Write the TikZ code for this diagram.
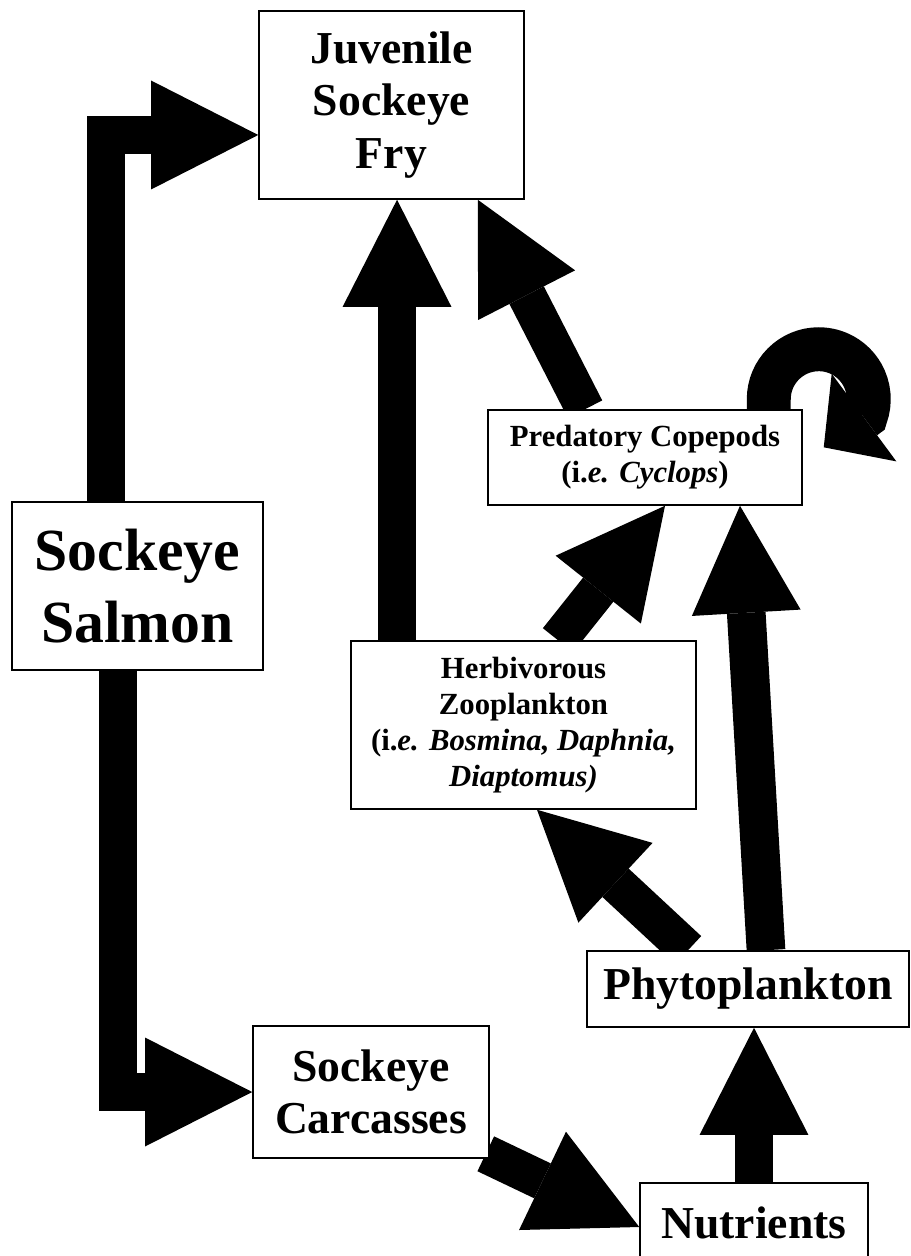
\documentclass[tikz,border=0pt]{standalone}
\usepackage{fontspec}
\setmainfont{Liberation Serif}
\usetikzlibrary{arrows.meta}
\pgfdeclarelayer{back}
\pgfsetlayers{back,main}

\begin{document}
\begin{tikzpicture}[
    x=0.02cm, y=-0.02cm,
    box/.style={rectangle, draw, line width=0.9pt, fill=white, align=center, inner sep=2pt},
    bigbox/.style={box, font=\fontsize{26}{30}\selectfont\bfseries},
    hugebox/.style={box, font=\fontsize{34}{41}\selectfont\bfseries},
    smallbox/.style={box, font=\fontsize{17.5}{20.6}\selectfont\bfseries},
    flow/.style={line width=22pt, -{Triangle[length=61pt, width=62pt, line width=0pt]}},
    curl/.style={line width=25pt, -{Triangle[length=28.5pt, width=62pt, line width=0pt]}}
]
    \useasboundingbox (0,0) rectangle (911,1256);

    \node[bigbox, minimum width=5.3cm, minimum height=3.76cm] (fry) at (391.5,105) {Juvenile\\Sockeye\\Fry};
    \node[hugebox, minimum width=5.02cm, minimum height=3.36cm] (salmon) at (137.5,586) {Sockeye\\Salmon};
    \node[smallbox, minimum width=6.28cm, minimum height=1.9cm] (copepods) at (645,457.5) {Predatory Copepods\\(i.\textit{e. Cyclops})};
    \node[smallbox, minimum width=6.9cm, minimum height=3.36cm] (zoo) at (523.5,725) {Herbivorous\\Zooplankton\\(i.\textit{e. Bosmina, Daphnia,}\\\textit{Diaptomus)}};
    \node[bigbox, minimum width=6.44cm, minimum height=1.52cm] (phyto) at (748,989) {Phytoplankton};
    \node[bigbox, minimum width=4.72cm, minimum height=2.64cm] (carcass) at (371,1092) {Sockeye\\Carcasses};
    \node[bigbox, minimum width=4.56cm, minimum height=1.58cm] (nutrients) at (754,1222.5) {Nutrients};

    % arrows go behind the boxes
    \begin{pgfonlayer}{back}
    \draw[flow] ([xshift=-0.63cm]salmon.north) |- ([yshift=-0.6cm]fry.west);
    \draw[flow] ([xshift=-0.39cm]salmon.south) |- (carcass.west);
    \draw[flow] ([xshift=-2.53cm]zoo.north) coordinate (z0) -- (z0 |- fry.south);
    \draw[flow] ([xshift=-1.2cm]copepods.north) -- ([xshift=-0.94cm]fry.south east);
    \draw[flow] ([xshift=0.69cm]zoo.north) -- ([xshift=0.4cm]copepods.south);
    \draw[flow] ([xshift=0.36cm]phyto.north) -- ([xshift=1.9cm]copepods.south);
    \draw[flow] ([xshift=-1.2cm]phyto.north) -- ([xshift=0.27cm]zoo.south);
    \draw[flow] (nutrients.north) -- (nutrients.north |- phyto.south);
    \draw[flow] ([shift={(-0.08cm,0.1cm)}]carcass.south east) -- ([yshift=-0.09cm]nutrients.west);
    \draw[curl] ([xshift=-0.68cm]copepods.north east) -- ++(0,-10) arc[start angle=180, end angle=-20, radius=1cm] -- ++(-42,31);
    \end{pgfonlayer}
\end{tikzpicture}
\end{document}
